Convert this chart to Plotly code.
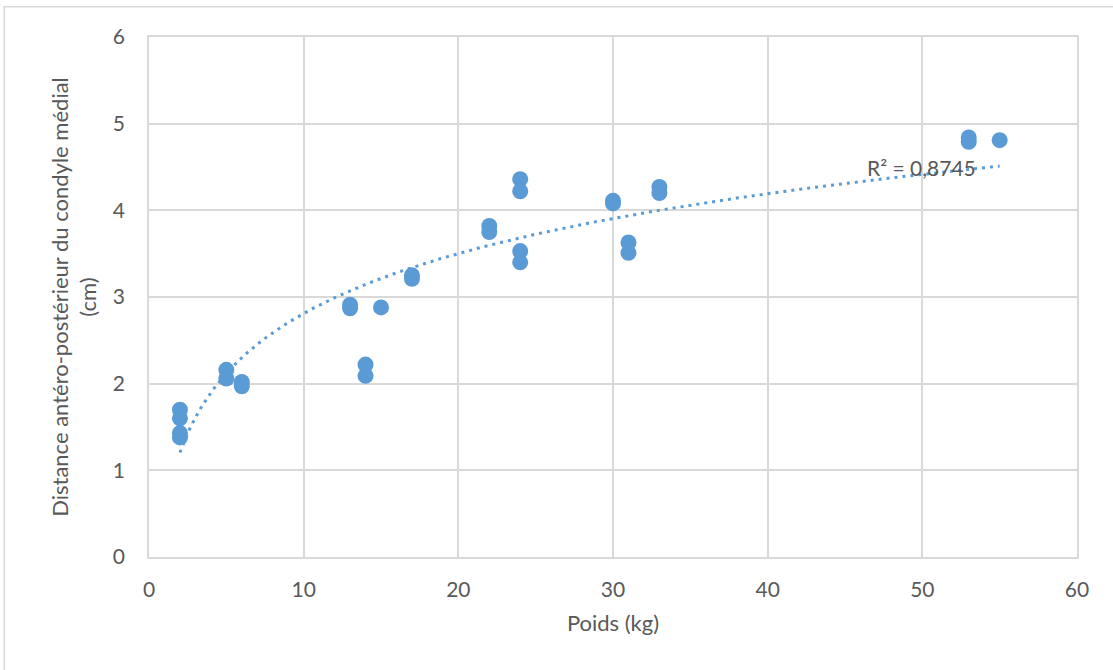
import numpy as np
import plotly.graph_objects as go

# Poids (kg) et distance antéro-postérieure du condyle médial (cm)
poids = [2, 2, 2, 2, 5, 5, 6, 6, 13, 13, 14, 14, 15, 17, 17,
         22, 22, 24, 24, 24, 24, 30, 30, 31, 31, 33, 33, 53, 53, 55]
distance = [1.70, 1.60, 1.43, 1.38, 2.16, 2.06, 2.02, 1.97, 2.91, 2.87,
            2.22, 2.09, 2.88, 3.25, 3.21, 3.82, 3.75, 4.36, 4.22, 3.53,
            3.40, 4.11, 4.08, 3.63, 3.51, 4.27, 4.20, 4.84, 4.79, 4.81]
r2_label = "R² = 0,8745"

x_ticks = [0, 10, 20, 30, 40, 50, 60]
y_ticks = [0, 1, 2, 3, 4, 5, 6]

BLUE = "#5B9BD5"
GRID = "#D9D9D9"
TXT = "#595959"
FONT = "Lato, 'Open Sans', sans-serif"

# Logarithmic trend line: y = a*ln(x) + b (least squares)
xa = np.array(poids, dtype=float)
ya = np.array(distance, dtype=float)
a, b = np.polyfit(np.log(xa), ya, 1)
xt = np.linspace(xa.min(), xa.max(), 300)
yt = a * np.log(xt) + b

fig = go.Figure()
fig.add_trace(go.Scatter(
    x=xt, y=yt, mode="lines",
    line=dict(color=BLUE, width=3, dash="3px,5px"),
    hoverinfo="skip", showlegend=False,
))
fig.add_trace(go.Scatter(
    x=poids, y=distance, mode="markers",
    marker=dict(color=BLUE, size=16, line=dict(width=0)),
    showlegend=False,
))

fig.add_annotation(
    x=46.3, y=4.5, xref="x", yref="y", text=r2_label, showarrow=False,
    xanchor="left", yanchor="middle",
    font=dict(family=FONT, size=21, color=TXT),
)

# outer chart border
fig.add_shape(type="rect", xref="paper", yref="paper",
              x0=-0.156, x1=1.06, y0=-0.3, y1=1.058,
              line=dict(color=GRID, width=1.5), layer="below")

fig.update_layout(
    width=1113, height=670,
    margin=dict(l=149, r=36, t=37, b=113),
    paper_bgcolor="white", plot_bgcolor="white",
    font=dict(family=FONT, color=TXT, size=21),
    xaxis=dict(
        range=[0, 60], tickvals=x_ticks, showgrid=True, gridcolor=GRID, gridwidth=1.5,
        zeroline=False, showline=True, linecolor=GRID, linewidth=1.5, mirror=True,
        ticks="", ticklabelstandoff=13,
        tickfont=dict(size=21, color=TXT),
        title=dict(text="Poids (kg)", font=dict(size=22, color=TXT), standoff=16),
    ),
    yaxis=dict(
        range=[0, 6], tickvals=y_ticks, showgrid=True, gridcolor=GRID, gridwidth=1.5,
        zeroline=False, showline=True, linecolor=GRID, linewidth=1.5, mirror=True,
        ticks="", ticklabelstandoff=18,
        tickfont=dict(size=21, color=TXT),
        title=dict(text="Distance antéro-postérieur du condyle médial<br>(cm)",
                   font=dict(size=22, color=TXT), standoff=10),
    ),
)

fig.write_html("out.html")
